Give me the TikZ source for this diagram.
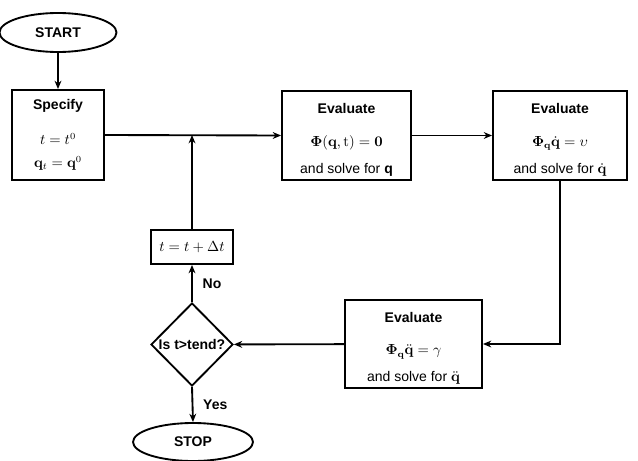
\documentclass[tikz,border=0pt]{standalone}
\usepackage{amsmath}
\usepackage[no-math]{fontspec}
\setmainfont{Liberation Sans}
\usepackage{tikz}
\usetikzlibrary{positioning, arrows.meta, shapes.geometric}
\tikzset{
  fblk/.style={draw, line width=1.4pt, align=center, inner sep=0pt,
               font=\fontsize{10.5}{12.6}\selectfont},
  fbox/.style={fblk, rectangle},
  fterm/.style={fblk, ellipse, font=\fontsize{10.5}{12.6}\selectfont\bfseries},
  fdec/.style={fblk, diamond, minimum width=61.5pt, minimum height=62.25pt,
               font=\fontsize{10.5}{12.6}\selectfont\bfseries},
  farr/.style={-{Stealth[length=2.2mm, width=1.8mm]}, line width=1.4pt},
  flbl/.style={font=\fontsize{10.5}{12.6}\selectfont\bfseries},
}

\begin{document}
\begin{tikzpicture}[x=0.75pt, y=-0.75pt]
        \useasboundingbox (0,0) rectangle (638,460);
        \node[fterm, minimum width=87.75pt, minimum height=29.25pt] (start) at (58,32.5) {START};
        \node[fbox, minimum width=69pt, minimum height=67.5pt] (spec) at (58,135)
          {\textbf{Specify}\\[14pt] $t=t^{0}$\\[4.5pt] $\mathbf{q}_{t}=\mathbf{q}^{0}$};
        \node[fbox, minimum width=96.75pt, minimum height=66.75pt] (ev1) at (346.5,135.5)
          {\rule{0pt}{14pt}\textbf{Evaluate}\\[12pt] $\boldsymbol{\Phi}(\mathbf{q},\mathrm{t})=\mathbf{0}$\\[7.5pt] and solve for \textbf{q}};
        \node[fbox, minimum width=100.5pt, minimum height=66.75pt] (ev2) at (560,135.5)
          {\rule{0pt}{14pt}\textbf{Evaluate}\\[12pt] $\boldsymbol{\Phi}_{\mathbf{q}}\dot{\mathbf{q}}=\upsilon$\\[7.5pt] and solve for $\dot{\mathbf{q}}$};
        \node[fbox, minimum width=102.75pt, minimum height=66pt] (ev3) at (413.5,344)
          {\rule{0pt}{14pt}\textbf{Evaluate}\\[12pt] $\boldsymbol{\Phi}_{\mathbf{q}}\ddot{\mathbf{q}}=\gamma$\\[7.5pt] and solve for $\ddot{\mathbf{q}}$};
        \node[fdec] (dec) at (192,344.5) {\makebox[0pt]{Is t>tend?}};
        \node[fbox, minimum width=61.5pt, minimum height=25.5pt] (tinc) at (192,247) {$t=t+\Delta t$};
        \node[fterm, minimum width=90pt, minimum height=28.5pt] (stop) at (193,442) {STOP};
        \coordinate (jn) at (tinc.north |- spec.east);
        \draw[farr](start)--(spec); \draw[farr](spec.east)--(ev1.west);
        \draw[farr](tinc.north)--(jn); \draw[farr](ev1)--(ev2);
        \draw[farr](ev2.south)|-(ev3.east); \draw[farr](ev3)--(dec);
        \draw[farr](dec.north)--node[flbl, right=4pt]{No}(tinc.south);
        \draw[farr](dec.south)--node[flbl, right=4pt]{Yes}(stop.north);
      \end{tikzpicture}
\end{document}
